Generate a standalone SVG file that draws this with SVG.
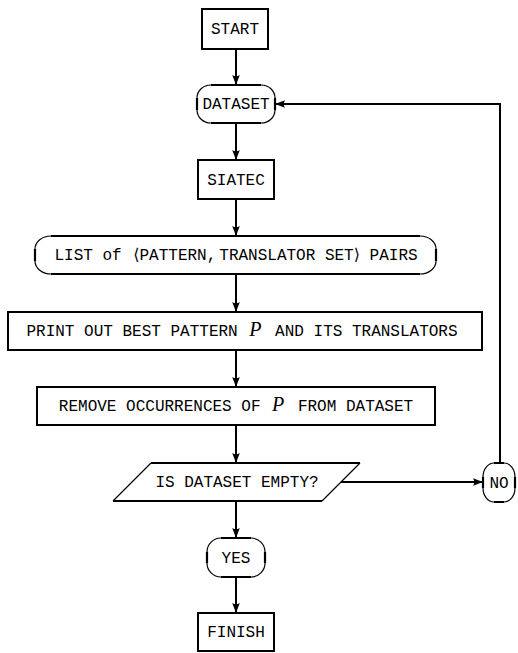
<svg xmlns="http://www.w3.org/2000/svg" width="518" height="653" viewBox="0 0 518 653">
<style>
.box{fill:#fff;stroke:#000;stroke-width:2}
.term{fill:#fff;stroke:#000;stroke-width:1.2}
.edge{fill:none;stroke:#000;stroke-width:2.2}
.slant{fill:none;stroke:#000;stroke-width:1.2}
.t{font-family:"Liberation Mono","DejaVu Sans Mono",monospace;font-size:16px;fill:#000;text-anchor:middle}
.m{font-family:"Liberation Serif","DejaVu Serif",serif;font-style:italic;font-size:20px}
.br{font-family:"DejaVu Serif","DejaVu Sans",serif;font-size:16px}
.c{fill:none;stroke:#000;stroke-width:2}
</style>
<defs>
<marker id="ah" markerUnits="userSpaceOnUse" markerWidth="14" markerHeight="12" viewBox="-12 -6 14 12" refX="0" refY="0" orient="auto">
<path d="M0,0 L-10,-3.8 Q-7.5,0 -10,3.8 Z" fill="#000"/>
</marker>
</defs>
<rect width="518" height="653" fill="#fff"/>
<g id="connectors">
<path class="c" d="M236,49 V85" marker-end="url(#ah)"/>
<path class="c" d="M236,123 V160" marker-end="url(#ah)"/>
<path class="c" d="M236,199 V236" marker-end="url(#ah)"/>
<path class="c" d="M236,274 V312" marker-end="url(#ah)"/>
<path class="c" d="M236,350 V387" marker-end="url(#ah)"/>
<path class="c" d="M236,425 V463" marker-end="url(#ah)"/>
<path class="c" d="M236,501 V538" marker-end="url(#ah)"/>
<path class="c" d="M236,577 V613" marker-end="url(#ah)"/>
<path class="c" d="M341,482 H483" marker-end="url(#ah)"/>
<path class="c" d="M500,463 V104 H275" marker-end="url(#ah)"/>
</g>
<g id="start">
<rect class="box" x="202" y="9" width="66" height="40"/>
<text class="t" x="235" y="34.3">START</text>
</g>
<g id="dataset">
<path class="term" d="M211,85 H261 A14,13 0 0 1 275,98 V110 A14,13 0 0 1 261,123 H211 A14,13 0 0 1 197,110 V98 A14,13 0 0 1 211,85 Z"/>
<path class="edge" d="M211,85 H261 M275,98 V110 M261,123 H211 M197,110 V98"/>
<text class="t" x="236" y="109.3">DATASET</text>
</g>
<g id="siatec">
<rect class="box" x="198" y="160" width="76" height="39"/>
<text class="t" x="236" y="184.8">SIATEC</text>
</g>
<g id="list">
<path class="term" d="M51,236 H420 A16,13 0 0 1 436,249 V261 A16,13 0 0 1 420,274 H51 A16,13 0 0 1 35,261 V249 A16,13 0 0 1 51,236 Z"/>
<path class="edge" d="M51,236 H420 M436,249 V261 M420,274 H51 M35,261 V249"/>
<text class="t" x="236" y="260.3">LIST of <tspan class="br" dx="2">⟨</tspan><tspan>PATTERN,</tspan><tspan dx="3">TRANSLATOR SET</tspan><tspan class="br">⟩</tspan> PAIRS</text>
</g>
<g id="print">
<rect class="box" x="8" y="312" width="474" height="38"/>
<text class="t" x="242" y="336.3">PRINT OUT BEST PATTERN <tspan class="m" dx="2">P</tspan><tspan dx="4"> AND ITS TRANSLATORS</tspan></text>
</g>
<g id="remove">
<rect class="box" x="37" y="387" width="398" height="38"/>
<text class="t" x="236" y="411.3">REMOVE OCCURRENCES OF <tspan class="m" dx="2">P</tspan><tspan dx="4"> FROM DATASET</tspan></text>
</g>
<g id="empty">
<path fill="#fff" stroke="none" d="M151,463 H360 L322,501 H113 Z"/>
<path class="slant" d="M360,463 L322,501 M113,501 L151,463"/>
<path class="edge" d="M151,463 H360 M322,501 H113"/>
<text class="t" x="237" y="487.3">IS DATASET EMPTY?</text>
</g>
<g id="no">
<path class="term" d="M494,463 H504 A11,14 0 0 1 515,477 V488 A11,14 0 0 1 504,502 H494 A11,14 0 0 1 483,488 V477 A11,14 0 0 1 494,463 Z"/>
<path class="edge" d="M494,463 H504 M515,477 V488 M504,502 H494 M483,488 V477"/>
<text class="t" x="499" y="487.8">NO</text>
</g>
<g id="yes">
<path class="term" d="M221,538 H251 A14,14 0 0 1 265,552 V563 A14,14 0 0 1 251,577 H221 A14,14 0 0 1 207,563 V552 A14,14 0 0 1 221,538 Z"/>
<path class="edge" d="M221,538 H251 M265,552 V563 M251,577 H221 M207,563 V552"/>
<text class="t" x="236" y="562.8">YES</text>
</g>
<g id="finish">
<rect class="box" x="198" y="613" width="76" height="38"/>
<text class="t" x="236" y="637.3">FINISH</text>
</g>
</svg>
